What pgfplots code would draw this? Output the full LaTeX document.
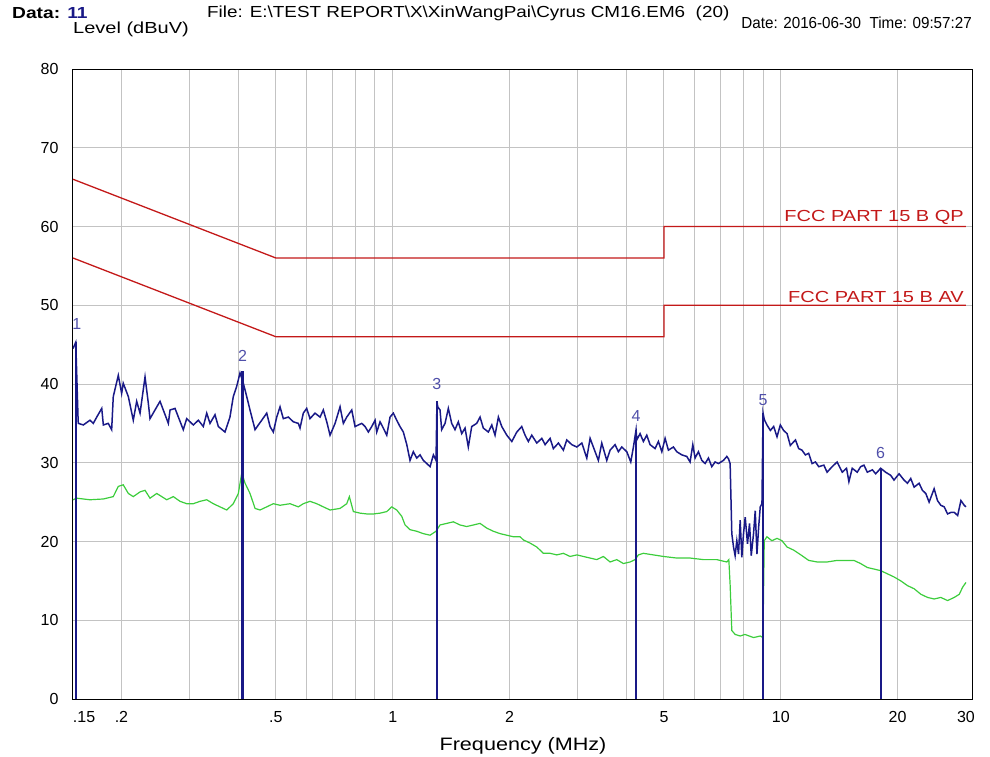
\documentclass[border=0pt]{standalone}
\usepackage{pgfplots}
\pgfplotsset{compat=1.18}
\usepackage{fontspec}
\setmainfont{Liberation Sans}
\definecolor{navy}{RGB}{25,25,135}
\definecolor{mk}{RGB}{80,80,170}
\definecolor{grn}{RGB}{60,205,60}
\definecolor{lim}{RGB}{195,25,25}
\definecolor{gridc}{RGB}{195,195,195}
\newcommand{\wide}[1]{\scalebox{1.25}[1]{#1}}
\begin{document}
\begin{tikzpicture}[x=1pt,y=1pt]
\useasboundingbox (0,0) rectangle (990,756);
\node[anchor=base west,inner sep=0pt,font=\fontsize{16}{18}\selectfont\bfseries] at (12,737) {\scalebox{1.2}[1]{Data: \textcolor{navy}{11}}};
\node[anchor=base west,inner sep=0pt,font=\fontsize{16}{18}\selectfont] at (207,738) {\scalebox{1.18}[1]{File: E:\textbackslash TEST REPORT\textbackslash X\textbackslash XinWangPai\textbackslash Cyrus CM16.EM6\ \ (20)}};
\node[anchor=base east,inner sep=0pt,font=\fontsize{16}{18}\selectfont] at (972,727) {\scalebox{0.95}[1]{Date: 2016-06-30\ \ Time: 09:57:27}};
\node[anchor=base west,inner sep=0pt,font=\fontsize{16}{18}\selectfont] at (73,722) {\wide{Level (dBuV)}};
\node[anchor=center,font=\fontsize{18}{20}\selectfont] at (523,10) {\scalebox{1.2}[1]{Frequency (MHz)}};
\begin{axis}[at={(73pt,57pt)}, anchor=south west, scale only axis,
  width=899pt, height=630pt,
  xmode=log, xmin=0.15, xmax=31.1, ymin=0, ymax=80,
  xtick={0.15,0.2,0.5,1,2,5,10,20},
  xticklabels={\makebox[0pt][l]{.15},.2,.5,1,2,5,10,20},
  extra x ticks={30}, extra x tick labels={30},
  extra x tick style={grid=none},
  minor xtick={0.3,0.4,0.6,0.7,0.8,0.9,3,4,6,7,8,9},
  ytick={0,10,20,30,40,50,60,70,80},
  grid=both,
  major grid style={gridc, line width=1pt},
  minor grid style={gridc, line width=1pt},
  major tick length=0pt, minor tick length=0pt,
  axis line style={black, line width=1pt},
  tick label style={font=\fontsize{16}{18}\selectfont},
  /pgf/number format/assume math mode=true,
  xticklabel style={yshift=-9pt},
  yticklabel style={xshift=-11pt},
]
% limits
\addplot[lim, line width=1.3pt] coordinates {(0.15,66) (0.5,56) (5,56) (5,60) (30,60)};
\addplot[lim, line width=1.3pt] coordinates {(0.15,56) (0.5,46) (5,46) (5,50) (30,50)};
% AV trace (green)
\addplot[grn, line width=1.2pt] coordinates {
(0.1500,25.3) (0.1533,25.5) (0.1659,25.3) (0.1796,25.4) (0.1905,25.7) (0.1963,27.0) (0.2021,27.2)
(0.2083,26.1) (0.2145,25.7) (0.2233,26.3) (0.2300,26.5) (0.2369,25.5) (0.2465,26.1) (0.2540,25.7)
(0.2616,25.3) (0.2720,25.7) (0.2831,25.1) (0.2945,24.8) (0.3063,24.8) (0.3187,25.1) (0.3317,25.3)
(0.3449,24.8) (0.3589,24.4) (0.3735,24.0) (0.3883,24.8) (0.4001,26.1) (0.4083,28.7) (0.4164,27.4)
(0.4288,26.1) (0.4418,24.2) (0.4551,24.0) (0.4735,24.4) (0.4924,24.8) (0.5124,24.6) (0.5437,24.8)
(0.5711,24.4) (0.5883,24.8) (0.6121,25.1) (0.6370,24.8) (0.6625,24.4) (0.6895,24.0) (0.7316,24.2)
(0.7613,24.8) (0.7733,25.7) (0.7919,23.8) (0.8239,23.6) (0.8573,23.5) (0.8915,23.5) (0.9275,23.6)
(0.9652,23.8) (0.9942,24.4) (1.024,24.0) (1.055,23.2) (1.076,22.1) (1.108,21.5) (1.153,21.3)
(1.199,21.0) (1.248,20.8) (1.293,21.3) (1.324,22.1) (1.378,22.3) (1.433,22.5) (1.491,22.1)
(1.551,21.9) (1.614,22.1) (1.679,22.3) (1.747,21.7) (1.817,21.3) (1.891,21.0) (1.968,20.8)
(2.047,20.6) (2.129,20.6) (2.171,20.2) (2.259,19.8) (2.351,19.3) (2.445,18.5) (2.544,18.5)
(2.647,18.3) (2.753,18.5) (2.864,18.1) (2.981,18.3) (3.100,18.1) (3.226,17.9) (3.356,17.7)
(3.490,18.1) (3.632,17.4) (3.779,17.7) (3.930,17.2) (4.090,17.4) (4.213,17.7) (4.296,18.3)
(4.425,18.5) (4.695,18.3) (4.984,18.1) (5.395,17.9) (5.838,17.9) (6.319,17.7) (6.841,17.7)
(7.260,17.4) (7.348,17.7) (7.404,14.5) (7.479,8.7) (7.627,8.2) (7.860,8.0) (8.082,8.2)
(8.507,7.8) (8.853,8.0) (8.995,7.8) (9.066,20.1) (9.211,20.6) (9.487,20.1) (9.779,20.4)
(10.07,20.1) (10.38,19.3) (10.80,18.9) (11.34,18.2) (11.80,17.6) (12.41,17.4) (13.16,17.4)
(13.97,17.6) (14.83,17.6) (15.43,17.6) (16.06,17.2) (16.71,16.7) (17.39,16.5) (18.09,16.3)
(18.82,15.9) (19.58,15.5) (20.38,15.0) (21.20,14.4) (22.06,14.0) (22.96,13.3) (23.89,12.9)
(24.84,12.7) (25.84,12.9) (26.90,12.5) (27.99,12.9) (28.84,13.3) (29.42,14.2) (30.0,14.8)
};
% QP trace (blue)
\addplot[navy, line width=1.5pt] coordinates {
(0.1500,44.5) (0.1525,45.3) (0.1545,36.0) (0.1548,35.0) (0.1595,34.8) (0.1659,35.4) (0.1692,35.0)
(0.1727,35.8) (0.1779,36.9) (0.1796,34.8) (0.1849,35.0) (0.1887,34.2) (0.1905,38.4) (0.1963,41.1)
(0.2002,38.8) (0.2021,40.1) (0.2083,38.4) (0.2145,35.4) (0.2189,37.8) (0.2233,36.3) (0.2300,40.9)
(0.2346,37.5) (0.2369,35.6) (0.2440,36.7) (0.2514,37.8) (0.2563,36.7) (0.2641,35.0) (0.2668,36.7)
(0.2748,36.9) (0.2803,35.8) (0.2886,34.2) (0.2945,35.6) (0.3063,34.8) (0.3156,35.4) (0.3250,34.6)
(0.3317,36.3) (0.3382,35.0) (0.3484,36.1) (0.3553,34.6) (0.3697,33.9) (0.3807,35.8) (0.3883,38.4)
(0.3963,39.7) (0.4041,41.4) (0.4121,40.1) (0.4205,38.4) (0.4288,36.7) (0.4418,34.2) (0.4505,34.8)
(0.4597,35.4) (0.4735,36.3) (0.4829,34.6) (0.4924,33.9) (0.5025,35.8) (0.5124,37.1) (0.5225,35.6)
(0.5383,35.8) (0.5544,35.2) (0.5711,35.0) (0.5769,34.4) (0.5883,36.3) (0.6002,36.9) (0.6121,35.6)
(0.6306,36.3) (0.6497,35.8) (0.6625,36.7) (0.6761,35.2) (0.6895,33.5) (0.7103,35.0) (0.7316,37.1)
(0.7461,35.0) (0.7613,35.8) (0.7843,36.7) (0.7998,34.6) (0.8156,34.8) (0.8323,35.0) (0.8487,34.6)
(0.8654,33.9) (0.8829,34.6) (0.9006,35.4) (0.9096,33.9) (0.9275,35.2) (0.9458,34.4) (0.9652,33.5)
(0.9842,35.8) (1.0037,36.3) (1.024,35.4) (1.044,34.6) (1.065,33.9) (1.087,32.3) (1.108,30.3)
(1.130,31.4) (1.153,30.6) (1.176,31.0) (1.199,30.3) (1.224,29.9) (1.248,29.5) (1.273,31.0)
(1.293,30.3) (1.300,37.8) (1.306,37.1) (1.324,36.7) (1.337,34.2) (1.364,35.0) (1.391,36.9)
(1.419,35.0) (1.447,34.2) (1.476,35.2) (1.506,33.7) (1.536,34.4) (1.566,32.0) (1.598,34.6)
(1.646,35.0) (1.679,35.8) (1.712,34.4) (1.764,33.9) (1.800,34.8) (1.835,33.5) (1.872,35.8)
(1.910,34.6) (1.968,33.5) (2.027,32.7) (2.088,33.9) (2.150,34.6) (2.193,33.5) (2.236,32.7)
(2.282,33.5) (2.351,32.5) (2.422,33.1) (2.470,32.3) (2.544,33.1) (2.594,31.8) (2.673,32.5)
(2.753,31.6) (2.809,32.9) (2.893,32.3) (2.981,32.0) (3.071,32.5) (3.163,30.6) (3.226,33.1)
(3.323,31.4) (3.388,30.3) (3.457,32.5) (3.561,30.3) (3.632,31.6) (3.741,32.3) (3.815,31.4)
(3.893,32.0) (4.010,31.4) (4.106,30.1) (4.171,32.0) (4.237,34.2) (4.255,32.9) (4.339,33.7)
(4.425,32.7) (4.515,33.5) (4.604,32.3) (4.743,31.8) (4.837,32.7) (4.936,31.4) (5.034,33.1)
(5.133,31.6) (5.288,32.0) (5.395,31.4) (5.558,31.0) (5.725,30.8) (5.838,30.1) (5.933,32.3)
(6.014,30.6) (6.133,31.4) (6.259,30.3) (6.383,29.9) (6.509,30.6) (6.641,29.5) (6.772,30.1)
(6.908,29.9) (7.116,30.3) (7.260,30.8) (7.334,30.5) (7.404,29.9) (7.479,21.0) (7.555,19.3)
(7.627,18.2) (7.704,20.1) (7.783,18.4) (7.860,22.7) (7.937,18.0) (8.016,21.0) (8.097,23.1)
(8.208,19.7) (8.307,22.3) (8.392,18.2) (8.507,21.0) (8.593,23.9) (8.681,18.4) (8.769,21.8)
(8.853,24.4) (8.943,24.8) (9.000,36.3) (9.066,35.5) (9.211,34.8) (9.400,34.1) (9.585,34.6)
(9.779,33.3) (9.973,34.8) (10.17,34.1) (10.38,33.7) (10.58,32.2) (10.91,32.9) (11.12,31.8)
(11.34,31.6) (11.57,31.0) (11.80,31.2) (12.04,29.9) (12.28,30.1) (12.53,29.5) (12.91,29.7)
(13.16,28.8) (13.56,29.5) (13.97,30.1) (14.40,28.8) (14.77,29.3) (14.98,27.6) (15.28,29.3)
(15.74,28.8) (16.06,29.5) (16.38,29.7) (16.71,28.8) (17.22,29.1) (17.56,28.6) (18.09,29.3)
(18.63,28.8) (19.20,28.4) (19.58,27.8) (20.17,28.6) (20.78,27.8) (21.20,27.4) (21.62,28.0)
(22.06,26.9) (22.72,27.4) (23.17,26.5) (23.64,26.1) (24.11,25.0) (24.84,26.7) (25.34,25.2)
(25.84,24.6) (26.37,24.4) (26.90,23.5) (27.45,23.7) (27.99,23.7) (28.56,23.3) (29.12,25.2)
(29.70,24.6) (30.0,24.4)
};
% markers
\addplot[ycomb, navy, line width=2.2pt] coordinates {
(0.153,45.3) (0.41,41.7) (1.30,37.8) (4.237,34.2) (9.0,36.3) (18.09,29.3)};
\node[mk,font=\fontsize{16}{18}\selectfont] at (axis cs:0.1535,47.6) {1};
\node[mk,font=\fontsize{16}{18}\selectfont] at (axis cs:0.41,43.6) {2};
\node[mk,font=\fontsize{16}{18}\selectfont] at (axis cs:1.30,40.0) {3};
\node[mk,font=\fontsize{16}{18}\selectfont] at (axis cs:4.237,35.9) {4};
\node[mk,font=\fontsize{16}{18}\selectfont] at (axis cs:9.0,37.9) {5};
\node[mk,font=\fontsize{16}{18}\selectfont] at (axis cs:18.09,31.3) {6};
\node[lim,anchor=south east,font=\fontsize{16}{18}\selectfont,inner sep=2pt] at (axis cs:30,60) {\wide{FCC PART 15 B QP}};
\node[lim,anchor=south east,font=\fontsize{16}{18}\selectfont,inner sep=2pt] at (axis cs:30,50) {\wide{FCC PART 15 B AV}};
\end{axis}
\end{tikzpicture}
\end{document}
